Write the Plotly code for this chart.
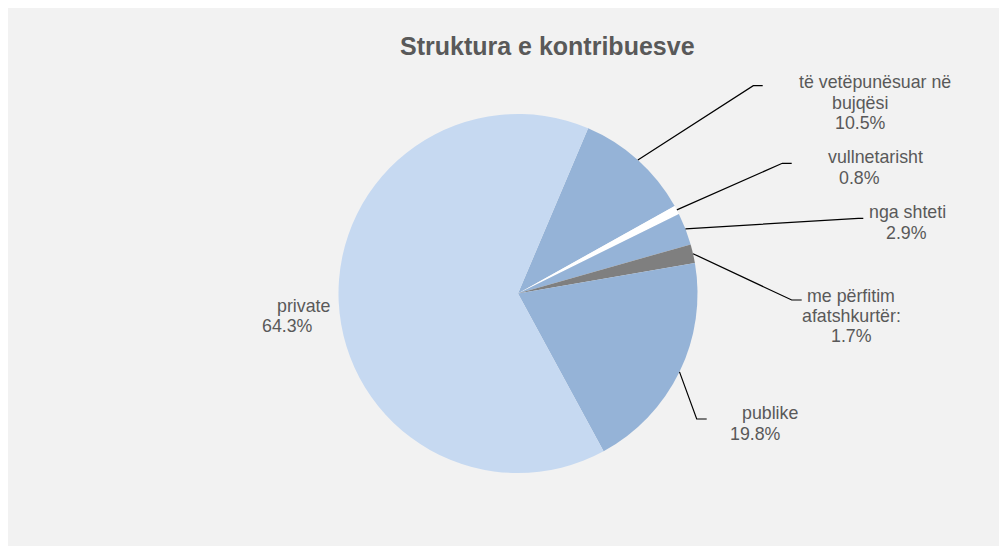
import math
import plotly.graph_objects as go

# ---------------- data ----------------
categories = ["të vetëpunësuar në bujqësi", "vullnetarisht", "nga shteti",
              "me përfitim afatshkurtër:", "publike", "private"]
values = [10.5, 0.8, 2.9, 1.7, 19.8, 64.3]
label_lines = [["të vetëpunësuar në", "bujqësi"], ["vullnetarisht"], ["nga shteti"],
               ["me përfitim", "afatshkurtër:"], ["publike"], ["private"]]
colors = ["#95B3D7", "#FFFFFF", "#95B3D7", "#7F7F7F", "#95B3D7", "#C6D9F1"]
title_text = "Struktura e kontribuesve"

# ---------------- layout constants (page pixels) ----------------
OFF = 8  # page margin around the figure
W, H = 1007, 546
CX, CY, R = 518.0, 293.5, 179.5
ROTATION = 23.0
# label placement: (x of first line, x of other lines, baseline of first line)
label_pos = [(874.7, 860.2, 88.3), (875.0, 859.3, 163.3), (907.0, 906.7, 218.3),
             (850.7, 851.3, 301.7), (770.3, 755.0, 419.3), (303.0, 287.2, 311.7)]
# leader lines: (elbow, end) or None
leader = [((753.3, 85.7), (762.7, 85.7)), ((782.3, 163.3), (791.7, 163.3)),
          ((858.3, 218.3), (863.3, 218.3)), ((791.7, 300.0), (801.7, 300.0)),
          ((696.7, 419.0), (706.7, 419.0)), None]
LINE_SP = 20.3
FONT = "Arial, 'Liberation Sans', sans-serif"
FS = 17.8
TXT = "#595959"


def px(x):
    return (x - OFF) / W


def py(y):
    return 1 - (y - OFF) / H


fig = go.Figure()
fig.add_trace(go.Pie(
    labels=categories, values=values, sort=False, direction="clockwise",
    rotation=ROTATION, textinfo="none", hoverinfo="label+percent",
    marker=dict(colors=colors, line=dict(width=0)),
    domain=dict(x=[px(CX - R), px(CX + R)], y=[py(CY + R), py(CY - R)]),
    showlegend=False,
))

shapes = []
annotations = []

total = sum(values)
cum = 0.0
for i, v in enumerate(values):
    mid = math.radians(ROTATION + 360.0 * (cum + v / 2) / total)
    cum += v
    sx, sy = CX + R * math.sin(mid), CY - R * math.cos(mid)
    if leader[i] is not None:
        (ex, ey), (fx, fy) = leader[i]
        path = f"M {px(sx)},{py(sy)} L {px(ex)},{py(ey)} L {px(fx)},{py(fy)}"
        shapes.append(dict(type="path", xref="paper", yref="paper", path=path,
                           line=dict(color="#000000", width=1.2), layer="above"))
    lines = label_lines[i] + [f"{v:.1f}%"]
    x1, xr, yb = label_pos[i]
    for j, t in enumerate(lines):
        x = x1 if j == 0 else xr
        yc = yb + j * LINE_SP - 6.0
        annotations.append(dict(text=t, x=px(x), y=py(yc), xref="paper", yref="paper",
                                xanchor="center", yanchor="middle", showarrow=False,
                                borderpad=0, font=dict(family=FONT, size=FS, color=TXT)))

annotations.append(dict(text=f"<b>{title_text}</b>", x=px(547.5), y=py(46.5),
                        xref="paper", yref="paper", xanchor="center", yanchor="middle",
                        showarrow=False, borderpad=0,
                        font=dict(family=FONT, size=25, color=TXT)))

fig.update_layout(width=W, height=H, margin=dict(l=0, r=0, t=0, b=0),
                  paper_bgcolor="#F2F2F2", plot_bgcolor="#F2F2F2",
                  shapes=shapes, annotations=annotations)

fig.write_html("out.html",
               post_script="document.documentElement.style.overflow='hidden';"
                           "document.body.style.overflow='hidden';")
